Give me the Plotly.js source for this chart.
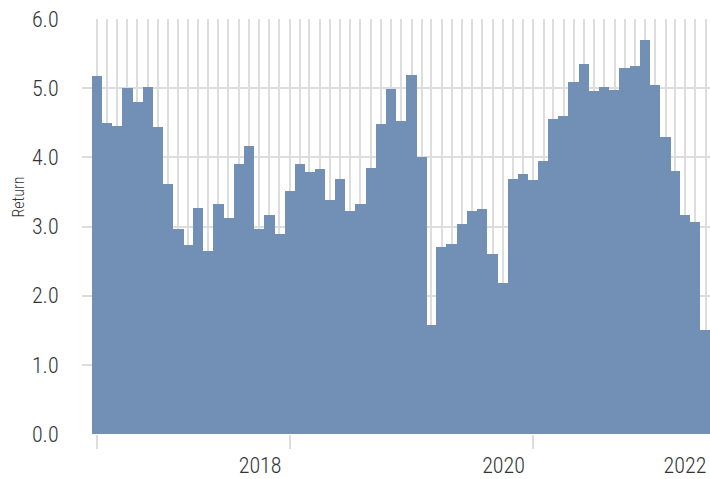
<!DOCTYPE html>
<html>
<head>
<meta charset="utf-8">
<script src="https://cdn.plot.ly/plotly-3.0.1.min.js"></script>
<style>html,body{margin:0;padding:0;background:#fff;}</style>
</head>
<body>
<div id="chart" style="width:710px;height:479px;"></div>
<script>
// Monthly periods (first of month), June 2016 – June 2021
const months = [];
for (let y = 2016, m = 6; y < 2021 || (y === 2021 && m <= 6); m++) {
  if (m > 12) { m = 1; y++; }
  months.push(y + '-' + String(m).padStart(2, '0') + '-01');
}

const returns = [
  5.18, 4.50, 4.46, 5.00, 4.80, 5.01, 4.44, 3.61, 2.96, 2.73,
  3.27, 2.64, 3.33, 3.12, 3.91, 4.16, 2.96, 3.16, 2.89, 3.52,
  3.91, 3.79, 3.83, 3.39, 3.69, 3.23, 3.33, 3.85, 4.48, 4.99,
  4.53, 5.19, 4.00, 1.58, 2.70, 2.74, 3.04, 3.22, 3.26, 2.60,
  2.18, 3.69, 3.76, 3.67, 3.95, 4.56, 4.60, 5.09, 5.35, 4.96,
  5.02, 4.98, 5.29, 5.32, 5.70, 5.04, 4.30, 3.80, 3.16, 3.07,
  1.50
];

const tickMarkDates = ['2016-06-01', '2018-01-01', '2020-01-01'];
const yearLabelDates = ['2017-10-04', '2019-10-04', '2021-03-31'];
const yearLabels = ['2018', '2020', '2022'];
const yTicks = [0, 1, 2, 3, 4, 5, 6];

const FONT = '"Roboto Condensed", "Liberation Sans Narrow", Roboto, sans-serif';
const xRange = ['2016-04-18', '2021-06-14'];
const DAY = 86400000;
const GRID = '#dddddd';
const TEXT = '#333333';

const traces = [
  {
    type: 'bar',
    x: months,
    y: returns,
    width: months.map(() => 31 * DAY),
    marker: { color: '#7290b5', line: { width: 0 } },
    hoverinfo: 'x+y'
  },
  {
    type: 'scatter',
    x: [], y: [],
    xaxis: 'x2',
    showlegend: false,
    hoverinfo: 'skip'
  }
];

const tickFont = { family: FONT, size: 22, color: TEXT, weight: 300 };

const layout = {
  width: 710,
  height: 479,
  margin: { l: 82, r: 0, t: 19, b: 45 },
  paper_bgcolor: '#ffffff',
  plot_bgcolor: '#ffffff',
  showlegend: false,
  bargap: 0,
  font: tickFont,
  xaxis: {
    type: 'date',
    range: xRange,
    tickmode: 'array',
    tickvals: tickMarkDates,
    showticklabels: false,
    ticks: 'outside',
    ticklen: 14,
    tickwidth: 2,
    tickcolor: GRID,
    showgrid: true,
    gridcolor: GRID,
    gridwidth: 2,
    minor: {
      tickmode: 'array',
      tickvals: months,
      showgrid: true,
      gridcolor: GRID,
      gridwidth: 2,
      ticks: ''
    },
    showline: false,
    zeroline: false,
    fixedrange: true
  },
  xaxis2: {
    type: 'date',
    range: xRange,
    overlaying: 'x',
    anchor: 'y',
    side: 'bottom',
    tickmode: 'array',
    tickvals: yearLabelDates,
    ticktext: yearLabels,
    ticks: 'outside',
    ticklen: 12,
    tickcolor: 'rgba(0,0,0,0)',
    showgrid: false,
    showline: false,
    zeroline: false,
    tickfont: tickFont
  },
  yaxis: {
    range: [0, 6],
    tickmode: 'array',
    tickvals: yTicks,
    tickformat: '.1f',
    ticks: 'outside',
    ticklen: 18,
    tickcolor: 'rgba(0,0,0,0)',
    showgrid: true,
    gridcolor: GRID,
    gridwidth: 2,
    zeroline: false,
    showline: false,
    tickfont: tickFont
  },
  annotations: [
    {
      text: 'Return',
      xref: 'paper', yref: 'paper',
      x: (18.3 - 82) / 628, y: (434.3 - 197.5) / 415,
      xanchor: 'center', yanchor: 'middle',
      textangle: -90,
      showarrow: false,
      font: { family: FONT, size: 16, color: TEXT, weight: 300 }
    }
  ]
};

Plotly.newPlot('chart', traces, layout, { displayModeBar: false, staticPlot: true });
</script>
</body>
</html>
